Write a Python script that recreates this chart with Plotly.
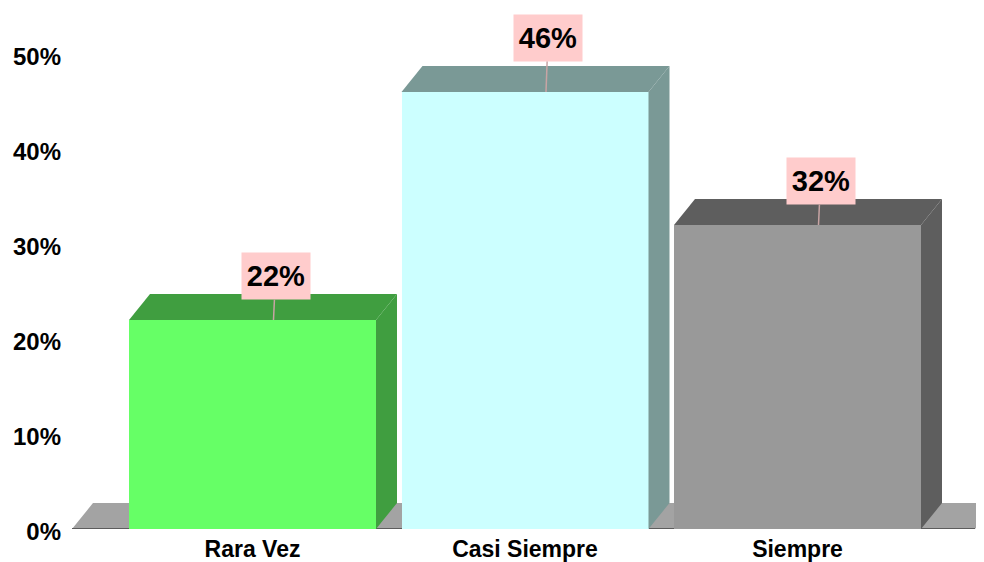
import plotly.graph_objects as go

# ---- data ----
categories = ["Rara Vez", "Casi Siempre", "Siempre"]
values = [22, 46, 32]                     # percent
labels = ["22%", "46%", "32%"]
y_ticks = [0, 10, 20, 30, 40, 50]
y_tick_text = ["0%", "10%", "20%", "30%", "40%", "50%"]

# ---- style ----
front_colors = ["#66FF66", "#CCFFFF", "#999999"]
shade_colors = ["#409E40", "#7A9996", "#5E5E5E"]
label_lift = [-44, -54, -44]              # pixel offset of label box above bar top
FONT = "Liberation Sans, Arial, sans-serif"

# the page body has an 8px default margin; the figure is sized to fill the window
PAGE_OFF = 8
W, H = 984 - PAGE_OFF, 562 - PAGE_OFF
ML, MR, MT, MB = 72 - PAGE_OFF, 0, 0, 33
PX_PER_CAT = 272.5                        # pixels between category centres
PX_PER_PCT = 9.5                          # pixels per percentage point
FIRST_CENTER_PX = 252.5 - 72              # first centre, measured from plot left edge

x0 = -FIRST_CENTER_PX / PX_PER_CAT
x1 = x0 + (W - ML - MR) / PX_PER_CAT
y1 = (H - MT - MB) / PX_PER_PCT

BAR_W = 247 / PX_PER_CAT
DX = 21 / PX_PER_CAT                      # 3-D depth, horizontal
DY = 26 / PX_PER_PCT                      # 3-D depth, vertical

xs = list(range(len(categories)))

fig = go.Figure()

# side and top faces (3-D look)
for i, v in enumerate(values):
    l = xs[i] - BAR_W / 2
    r = xs[i] + BAR_W / 2
    fig.add_trace(go.Scatter(
        x=[r, r + DX, r + DX, r, r], y=[0, DY, v + DY, v, 0],
        fill="toself", fillcolor=shade_colors[i], mode="lines",
        line=dict(width=0, color=shade_colors[i]), hoverinfo="skip", showlegend=False))
    fig.add_trace(go.Scatter(
        x=[l, l + DX, r + DX, r, l], y=[v, v + DY, v + DY, v, v],
        fill="toself", fillcolor=shade_colors[i], mode="lines",
        line=dict(width=0, color=shade_colors[i]), hoverinfo="skip", showlegend=False))

# front faces
fig.add_trace(go.Bar(
    x=xs, y=values, width=BAR_W,
    marker=dict(color=front_colors, line=dict(width=0)),
    hoverinfo="skip", showlegend=False))

# floor
floor_right = x0 + (975 - 72) / PX_PER_CAT
fig.add_shape(type="path", layer="below", xref="x", yref="y",
              path=f"M {x0},0 L {x0 + DX},{DY} L {floor_right + DX},{DY} L {floor_right},0 Z",
              fillcolor="#A3A3A3", line=dict(width=0))
fig.add_shape(type="line", layer="below", xref="x", yref="y",
              x0=x0, y0=0, x1=floor_right, y1=0,
              line=dict(color="#5C5C5C", width=2))

# value labels
for i, v in enumerate(values):
    fig.add_annotation(
        x=xs[i] + DX, y=v, xref="x", yref="y",
        text=f"<b>{labels[i]}</b>", showarrow=True, arrowhead=0,
        arrowcolor="#C8A4A4", arrowwidth=1.5, ax=2, ay=label_lift[i],
        bgcolor="#FFCCCC", width=66, height=44, borderpad=1,
        font=dict(family=FONT, size=29, color="#000000"))

fig.update_layout(
    width=W, height=H,
    margin=dict(l=ML, r=MR, t=MT, b=MB, pad=0),
    paper_bgcolor="white", plot_bgcolor="white",
    bargap=0,
    xaxis=dict(range=[x0, x1], tickmode="array", tickvals=xs,
               ticktext=[f"<b>{c}</b>" for c in categories],
               showgrid=False, zeroline=False, showline=False, ticks="",
               tickfont=dict(family=FONT, size=23, color="#000000"),
               ticklabelstandoff=4, fixedrange=True),
    yaxis=dict(range=[0, y1], tickmode="array", tickvals=y_ticks,
               ticktext=[f"<b>{t}</b>" for t in y_tick_text],
               showgrid=False, zeroline=False, showline=False, ticks="",
               tickfont=dict(family=FONT, size=24, color="#000000"),
               ticklabelstandoff=10, ticklabelshift=3, fixedrange=True),
)

fig.write_html("out.html")
